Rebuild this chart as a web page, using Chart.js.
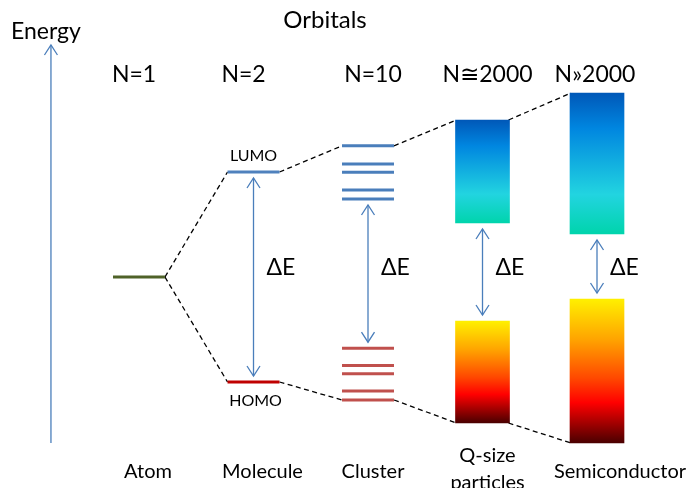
<!DOCTYPE html>
<html>
<head>
<meta charset="utf-8">
<script src="https://cdn.jsdelivr.net/npm/chart.js@4.4.1/dist/chart.umd.min.js"></script>
<style>
  html, body { margin: 0; padding: 0; background: #fff; }
  #wrap { position: relative; width: 687px; height: 488px; }
</style>
</head>
<body>
<div id="wrap"><canvas id="c"></canvas></div>
<script>
// columns of the diagram
const stages = ['Atom', 'Molecule', 'Cluster', 'Q-size\nparticles', 'Semiconductor'];
const sizes = ['N=1', 'N=2', 'N=10', 'N≅2000', 'N»2000'];

// discrete orbital energies (arbitrary units)
const atomLevels = [41.5];
const lumoLevels = [67.75];
const homoLevels = [15.25];
const clusterEmpty = [74.3, 69.75, 67.7, 63.25, 61];
const clusterFilled = [23.7, 19.4, 17.3, 13, 10.75];

// bands [bottom, top] for Q-size particles and semiconductor
const conductionBands = [[55, 80.75], [52.25, 87.5]];
const valenceBands = [[5, 30.5], [0, 36]];
const energyAxisTop = 99.5;

const HALF = 0.227;          // half width of a level line, in column units
const GAP_MARGIN = 1.5;      // space between a level and the ΔE arrow head

const BLUE = '#4a7ebb';
const RED_HOMO = '#c00000';
const RED = '#c0504d';
const GREEN = '#4f6228';
const FONT = 'Lato, "DejaVu Sans", sans-serif';

function levelLines(col, energies, color) {
  return energies.map(e => ({
    type: 'line',
    data: [{ x: col - HALF, y: e }, { x: col + HALF, y: e }],
    borderColor: color,
    borderWidth: 3,
    pointRadius: 0,
  }));
}

// top / bottom of every column, used for the dashed correlation lines
const colTop = [atomLevels[0], lumoLevels[0], Math.max(...clusterEmpty), conductionBands[0][1], conductionBands[1][1]];
const colBottom = [atomLevels[0], homoLevels[0], Math.min(...clusterFilled), valenceBands[0][0], valenceBands[1][0]];
// edges of the gap (highest filled, lowest empty)
const gapLow = [null, homoLevels[0], Math.max(...clusterFilled), valenceBands[0][1], valenceBands[1][1]];
const gapHigh = [null, lumoLevels[0], Math.min(...clusterEmpty), conductionBands[0][0], conductionBands[1][0]];

const datasets = [];

// bands
function bandGradient(ctx, stops) {
  const chart = ctx.chart;
  if (!chart.chartArea || !ctx.raw) return stops[0][1];
  const y = chart.scales.y;
  const top = y.getPixelForValue(ctx.raw.y[1]);
  const bot = y.getPixelForValue(ctx.raw.y[0]);
  const g = chart.ctx.createLinearGradient(0, top, 0, bot);
  stops.forEach(([p, c]) => g.addColorStop(p, c));
  return g;
}
datasets.push({
  type: 'bar',
  data: conductionBands.map((b, i) => ({ x: 3 + i, y: b })),
  barThickness: 54,
  grouped: false,
  borderWidth: 0,
  backgroundColor: ctx => bandGradient(ctx, [[0, '#0058b8'], [0.25, '#0086e0'], [0.72, '#22d4e0'], [1, '#00d4ac']]),
});
datasets.push({
  type: 'bar',
  data: valenceBands.map((b, i) => ({ x: 3 + i, y: b })),
  barThickness: 54,
  grouped: false,
  borderWidth: 0,
  backgroundColor: ctx => bandGradient(ctx, [[0, '#fff000'], [0.28, '#ffa400'], [0.55, '#ff4800'], [0.72, '#ff0000'], [1, '#4a0000']]),
});

// discrete levels
datasets.push(...levelLines(0, atomLevels, GREEN));
datasets.push(...levelLines(1, lumoLevels, '#4f81bd'));
datasets.push(...levelLines(1, homoLevels, RED_HOMO));
datasets.push(...levelLines(2, clusterEmpty, BLUE));
datasets.push(...levelLines(2, clusterFilled, RED));

// dashed correlation lines
for (let i = 0; i < 4; i++) {
  [[colTop[i], colTop[i + 1]], [colBottom[i], colBottom[i + 1]]].forEach(([a, b]) => {
    datasets.push({
      type: 'line',
      data: [{ x: i + HALF, y: a }, { x: i + 1 - HALF, y: b }],
      borderColor: '#000',
      borderWidth: 1.3,
      borderDash: [5, 3.5],
      pointRadius: 0,
    });
  });
}

// ΔE double arrows
for (let i = 1; i < 5; i++) {
  datasets.push({
    type: 'line',
    arrowHeads: 'both',
    data: [{ x: i, y: gapLow[i] + GAP_MARGIN }, { x: i, y: gapHigh[i] - GAP_MARGIN }],
    borderColor: BLUE,
    borderWidth: 1.3,
    pointRadius: 0,
  });
}

// energy axis arrow
datasets.push({
  type: 'line',
  arrowHeads: 'end',
  data: [{ x: -0.769, y: 0 }, { x: -0.769, y: energyAxisTop }],
  borderColor: BLUE,
  borderWidth: 1.3,
  pointRadius: 0,
});

// open chevron arrow heads
const arrowPlugin = {
  id: 'arrowHeads',
  afterDatasetsDraw(chart) {
    const ctx = chart.ctx;
    chart.data.datasets.forEach((ds, i) => {
      if (!ds.arrowHeads) return;
      const pts = chart.getDatasetMeta(i).data;
      const p0 = pts[0], p1 = pts[pts.length - 1];
      ctx.save();
      ctx.strokeStyle = ds.borderColor;
      ctx.lineWidth = 1.3;
      const head = (p, dir) => {
        ctx.beginPath();
        ctx.moveTo(p.x - 6.5, p.y - dir * 10);
        ctx.lineTo(p.x, p.y);
        ctx.lineTo(p.x + 6.5, p.y - dir * 10);
        ctx.stroke();
      };
      // y grows downward on screen; dir = +1 means pointing down
      head(p1, -1);
      if (ds.arrowHeads === 'both') head(p0, 1);
      ctx.restore();
    });
  },
};

const topShift = [-5, -10, 5, 5, -2];
const bottomShift = [9, 9, 5, 5, 23];

const textPlugin = {
  id: 'texts',
  afterDraw(chart) {
    const ctx = chart.ctx;
    const x = chart.scales.x, y = chart.scales.y;
    ctx.save();
    ctx.fillStyle = '#000';
    ctx.textBaseline = 'middle';

    ctx.textAlign = 'left';
    ctx.font = `23px ${FONT}`;
    ctx.fillText('Energy', 11, 32);

    ctx.textAlign = 'center';
    ctx.font = `24px ${FONT}`;
    ctx.fillText('Orbitals', 325, 20);

    ctx.font = `23px ${FONT}`;
    sizes.forEach((s, i) => ctx.fillText(s, x.getPixelForValue(i) + topShift[i], 75));

    ctx.font = `20px ${FONT}`;
    stages.forEach((s, i) => {
      const lines = s.split('\n');
      const cx = x.getPixelForValue(i) + bottomShift[i];
      if (lines.length === 1) ctx.fillText(s, cx, 472);
      else lines.forEach((l, k) => ctx.fillText(l, cx, 456 + k * 27));
    });

    ctx.font = `16px ${FONT}`;
    ctx.fillText('LUMO', x.getPixelForValue(1), y.getPixelForValue(lumoLevels[0]) - 16);
    ctx.fillText('HOMO', x.getPixelForValue(1) + 2, y.getPixelForValue(homoLevels[0]) + 19);

    ctx.textAlign = 'left';
    ctx.font = `23px ${FONT}`;
    for (let i = 1; i < 5; i++) {
      ctx.fillText('ΔE', x.getPixelForValue(i) + 13, 268);
    }
    ctx.restore();
  },
};

new Chart(document.getElementById('c'), {
  type: 'bar',
  data: { datasets },
  options: {
    responsive: true,
    maintainAspectRatio: false,
    animation: false,
    layout: { padding: 0 },
    plugins: { legend: { display: false }, tooltip: { enabled: false } },
    scales: {
      x: { type: 'linear', min: -1.214, max: 4.786, display: false, offset: false },
      y: { type: 'linear', min: -11.25, max: 110.75, display: false },
    },
  },
  plugins: [arrowPlugin, textPlugin],
});
</script>
</body>
</html>
